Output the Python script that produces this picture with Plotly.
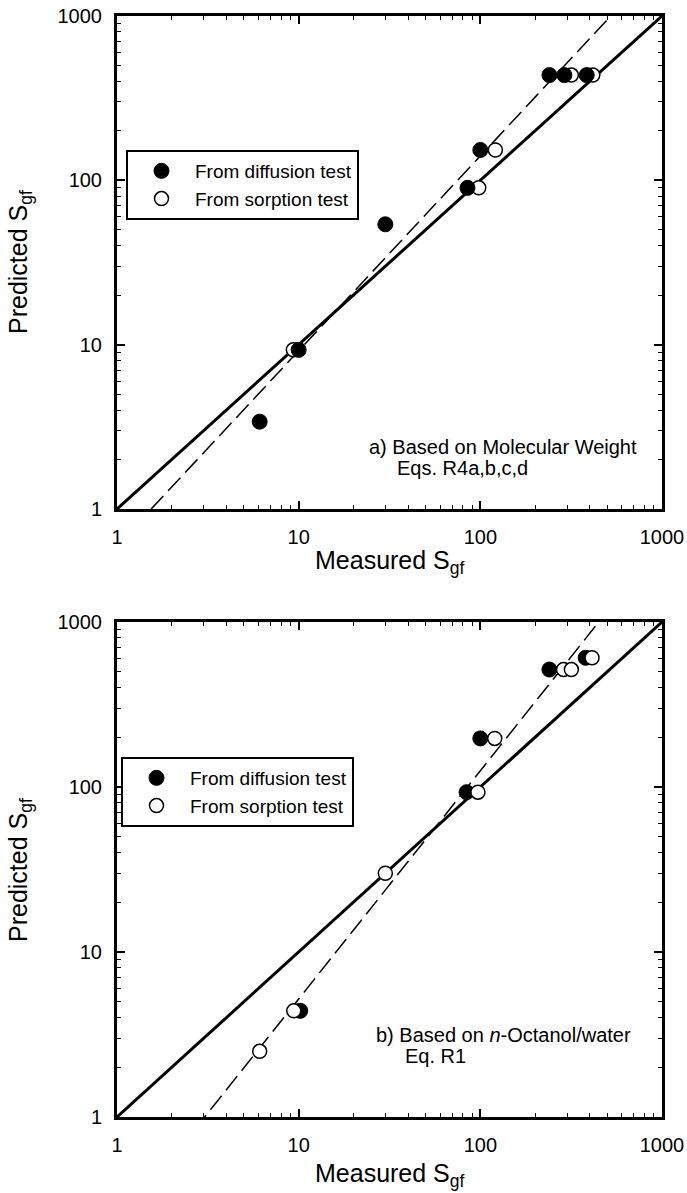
import plotly.graph_objects as go

# ---- Panel a: prediction from molecular weight ----
a_diff_x = [6.1, 10.0, 30.0, 85.0, 100.0, 240.0, 290.0, 385.0]
a_diff_y = [3.4, 9.3, 54.0, 90.0, 153.0, 437.0, 437.0, 437.0]
a_sorp_x = [9.35, 98.0, 121.0, 317.0, 416.0]
a_sorp_y = [9.3, 90.0, 153.0, 437.0, 437.0]
# regression line  S_pred = k * S_meas ** n
a_fit_k = 0.598
a_fit_n = 1.186

# ---- Panel b: prediction from n-octanol/water partitioning ----
b_diff_x = [10.2, 84.0, 100.0, 240.0, 380.0]
b_diff_y = [4.4, 93.0, 197.0, 515.0, 607.0]
b_sorp_x = [6.1, 9.4, 30.0, 97.0, 120.0, 287.0, 317.0, 412.0]
b_sorp_y = [2.5, 4.4, 30.0, 93.0, 197.0, 515.0, 515.0, 607.0]
b_fit_k = 0.215
b_fit_n = 1.383

# axis extent and labelled decades
axis_lo, axis_hi = 1, 1000
major_ticks = [1, 10, 100, 1000]
major_text = ["1", "10", "100", "1000"]
minor_ticks = [m * 10 ** e for e in range(3) for m in range(2, 10)]

W, H = 687, 1193
FONT = "Arial, 'Liberation Sans', Helvetica, sans-serif"

fig = go.Figure()

filled = dict(symbol="circle", size=15, color="black", line=dict(color="black", width=1))
hollow = dict(symbol="circle", size=14, color="white", line=dict(color="black", width=1.5))


def add_panel(n, dx, dy, sx, sy, k, p, legend, filled_on_top):
    xa = "x" if n == 1 else "x2"
    ya = "y" if n == 1 else "y2"
    line_x = [axis_lo, axis_hi]
    fig.add_trace(go.Scatter(x=line_x, y=line_x, mode="lines", xaxis=xa, yaxis=ya,
                             line=dict(color="black", width=3), showlegend=False,
                             hoverinfo="skip"))
    fig.add_trace(go.Scatter(x=line_x, y=[k * v ** p for v in line_x], mode="lines",
                             xaxis=xa, yaxis=ya,
                             line=dict(color="black", width=1.5, dash="18px,7px"),
                             showlegend=False, hoverinfo="skip"))
    diff = go.Scatter(x=dx, y=dy, mode="markers", xaxis=xa, yaxis=ya, marker=filled,
                      name="From diffusion test", legend=legend, legendrank=1)
    sorp = go.Scatter(x=sx, y=sy, mode="markers", xaxis=xa, yaxis=ya, marker=hollow,
                      name="From sorption test", legend=legend, legendrank=2)
    if filled_on_top:
        fig.add_trace(sorp)
        fig.add_trace(diff)
    else:
        fig.add_trace(diff)
        fig.add_trace(sorp)


add_panel(1, a_diff_x, a_diff_y, a_sorp_x, a_sorp_y, a_fit_k, a_fit_n, "legend", True)
add_panel(2, b_diff_x, b_diff_y, b_sorp_x, b_sorp_y, b_fit_k, b_fit_n, "legend2", False)


def log_axis(domain, anchor):
    return dict(
        type="log", range=[0, 3], domain=domain, anchor=anchor, automargin=False,
        showline=True, linewidth=3, linecolor="black", mirror="ticks",
        ticks="inside", ticklen=8, tickwidth=1.5, tickcolor="black",
        tickvals=major_ticks, ticktext=major_text,
        minor=dict(tickvals=minor_ticks, ticks="inside", ticklen=4,
                   tickwidth=1, tickcolor="black", showgrid=False),
        showgrid=False, zeroline=False,
        tickfont=dict(family=FONT, size=20, color="black"),
        ticklabelstandoff=8,
    )


def px_x(v):
    return v / W


def px_y(v):
    return 1 - v / H


x_dom = [px_x(117), px_x(662)]
legend_common = dict(xanchor="left", yanchor="top", bgcolor="white",
                     bordercolor="black", borderwidth=2,
                     font=dict(family=FONT, size=19, color="black"),
                     itemwidth=57, tracegroupgap=0)
fig.update_layout(
    width=W, height=H,
    margin=dict(l=0, r=0, t=0, b=0, autoexpand=False),
    paper_bgcolor="white", plot_bgcolor="white",
    font=dict(family=FONT, color="black"),
    xaxis=log_axis(x_dom, "y"),
    yaxis=log_axis([px_y(509), px_y(16)], "x"),
    xaxis2=log_axis(x_dom, "y2"),
    yaxis2=log_axis([px_y(1117), px_y(622)], "x2"),
    legend=dict(x=px_x(126), y=px_y(150), **legend_common),
    legend2=dict(x=px_x(121), y=px_y(757), **legend_common),
)

ann = []
title_font = dict(family=FONT, size=25, color="black")
for ymid, ylab in [(262, 562), (870, 1175)]:
    ann.append(dict(text="Predicted S<sub>gf</sub>", x=px_x(20), y=px_y(ymid),
                    xref="paper", yref="paper", textangle=-90, showarrow=False,
                    xanchor="center", yanchor="middle", font=title_font))
    ann.append(dict(text="Measured S<sub>gf</sub>", x=px_x(389.5), y=px_y(ylab),
                    xref="paper", yref="paper", showarrow=False,
                    xanchor="center", yanchor="middle", font=title_font))

note_font = dict(family=FONT, size=20, color="black")
notes = [
    ("a) Based on Molecular Weight", 367, 447),
    ("Eqs. R4a,b,c,d", 395, 468),
    ("b) Based on <i>n</i>-Octanol/water", 374, 1035),
    ("Eq. R1", 403, 1056),
]
for txt, x0, y0 in notes:
    ann.append(dict(text=txt, x=px_x(x0), y=px_y(y0), xref="paper", yref="paper",
                    showarrow=False, xanchor="left", yanchor="middle", font=note_font))

fig.update_layout(annotations=ann)
fig.write_html("out.html")
